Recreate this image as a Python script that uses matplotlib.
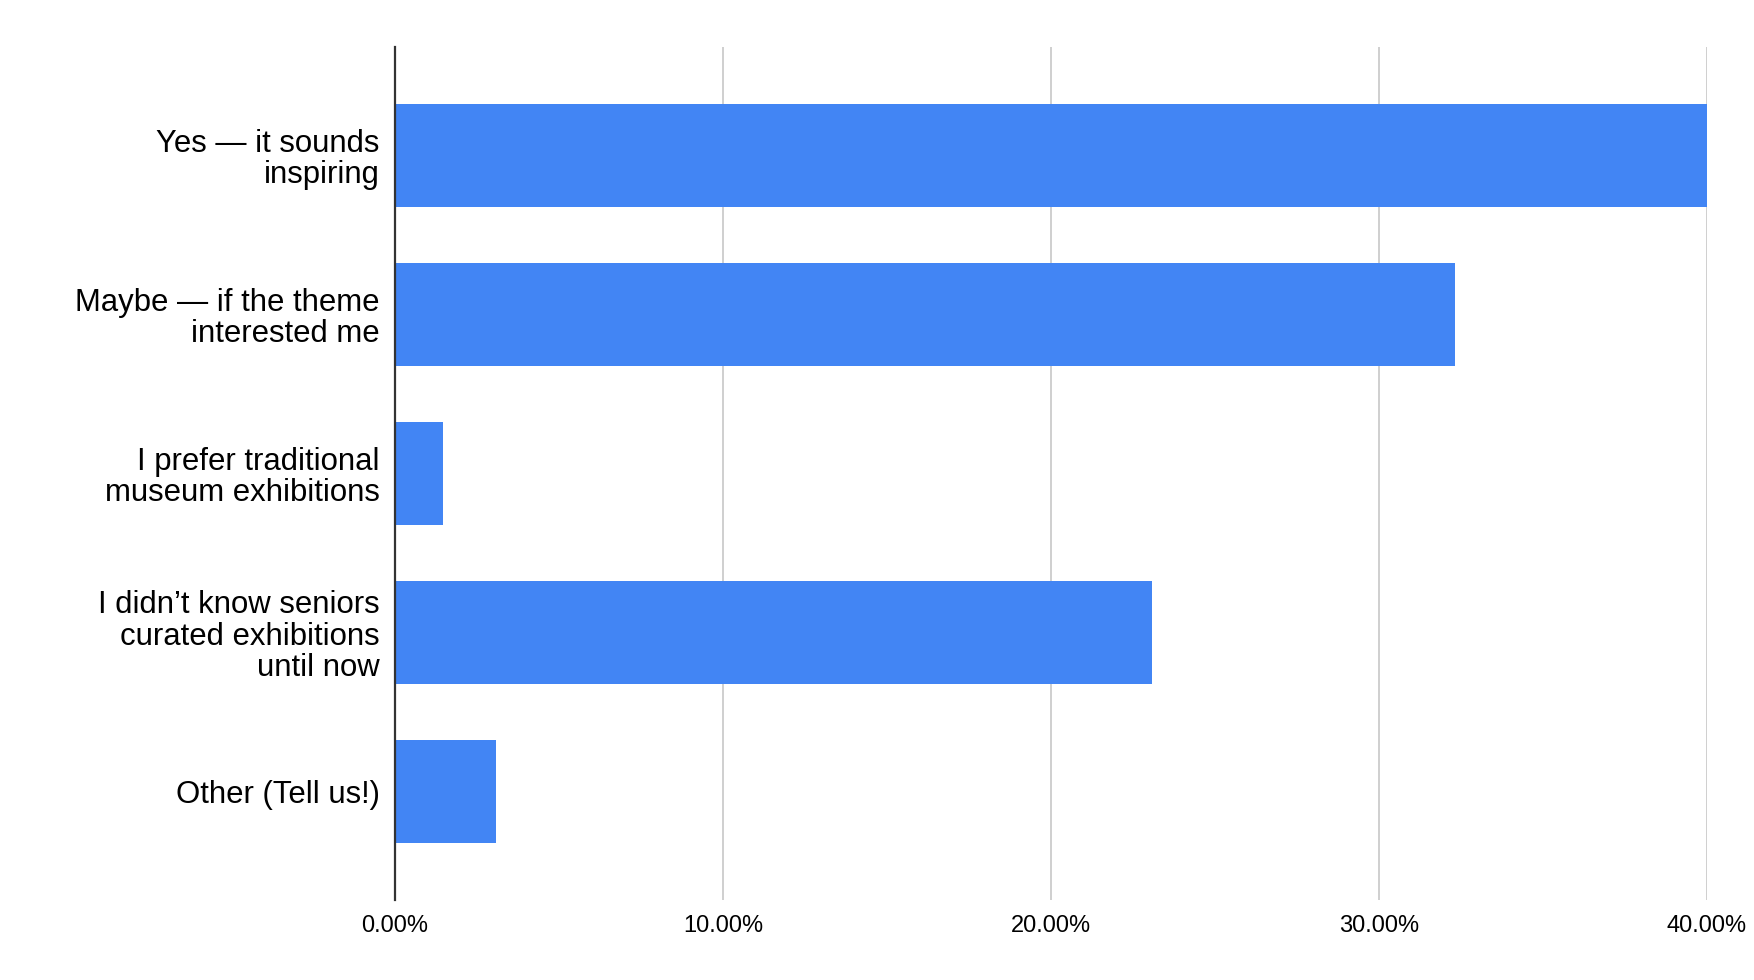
import matplotlib
matplotlib.use("Agg")
import matplotlib.pyplot as plt
from matplotlib.ticker import FuncFormatter

categories = [
    "Yes — it sounds\ninspiring",
    "Maybe — if the theme\ninterested me",
    "I prefer traditional\nmuseum exhibitions",
    "I didn’t know seniors\ncurated exhibitions\nuntil now",
    "Other (Tell us!)",
]
values = [40.00, 32.31, 1.47, 23.08, 3.08]  # percent
x_ticks = [0, 10, 20, 30, 40]

plt.rcParams['font.family'] = ['Liberation Sans', 'DejaVu Sans']

fig = plt.figure(figsize=(17.54, 9.8), dpi=100)
W, H = 1754, 980
left, right = 395 / W, 1707 / W
top, bottom = 46.7 / H, 900 / H
ax = fig.add_axes([left, 1 - bottom, right - left, bottom - top])

ypos = list(range(len(categories)))
ax.barh(ypos, values, height=0.65, color="#4285F4", zorder=3)

ax.set_xlim(0, 40)
ax.set_ylim(4.684, -0.684)
ax.set_xticks(x_ticks)
ax.xaxis.set_major_formatter(FuncFormatter(lambda v, p: f"{v:.2f}%"))
ax.set_yticks(ypos)
ax.set_yticklabels(categories, fontsize=22.4, linespacing=1.06, ha="right")

ax.grid(axis="x", color="#cccccc", linewidth=1.3, zorder=0)
ax.grid(axis="y", visible=False)
for s in ["top", "right", "bottom"]:
    ax.spines[s].set_visible(False)
ax.spines["left"].set_color("#333333")
ax.spines["left"].set_linewidth(1.6)
ax.spines["left"].set_zorder(4)

ax.tick_params(axis="y", length=0, pad=11)
ax.tick_params(axis="x", length=0, pad=11, labelsize=17)

fig.savefig("out.png", dpi=100, facecolor="white")
